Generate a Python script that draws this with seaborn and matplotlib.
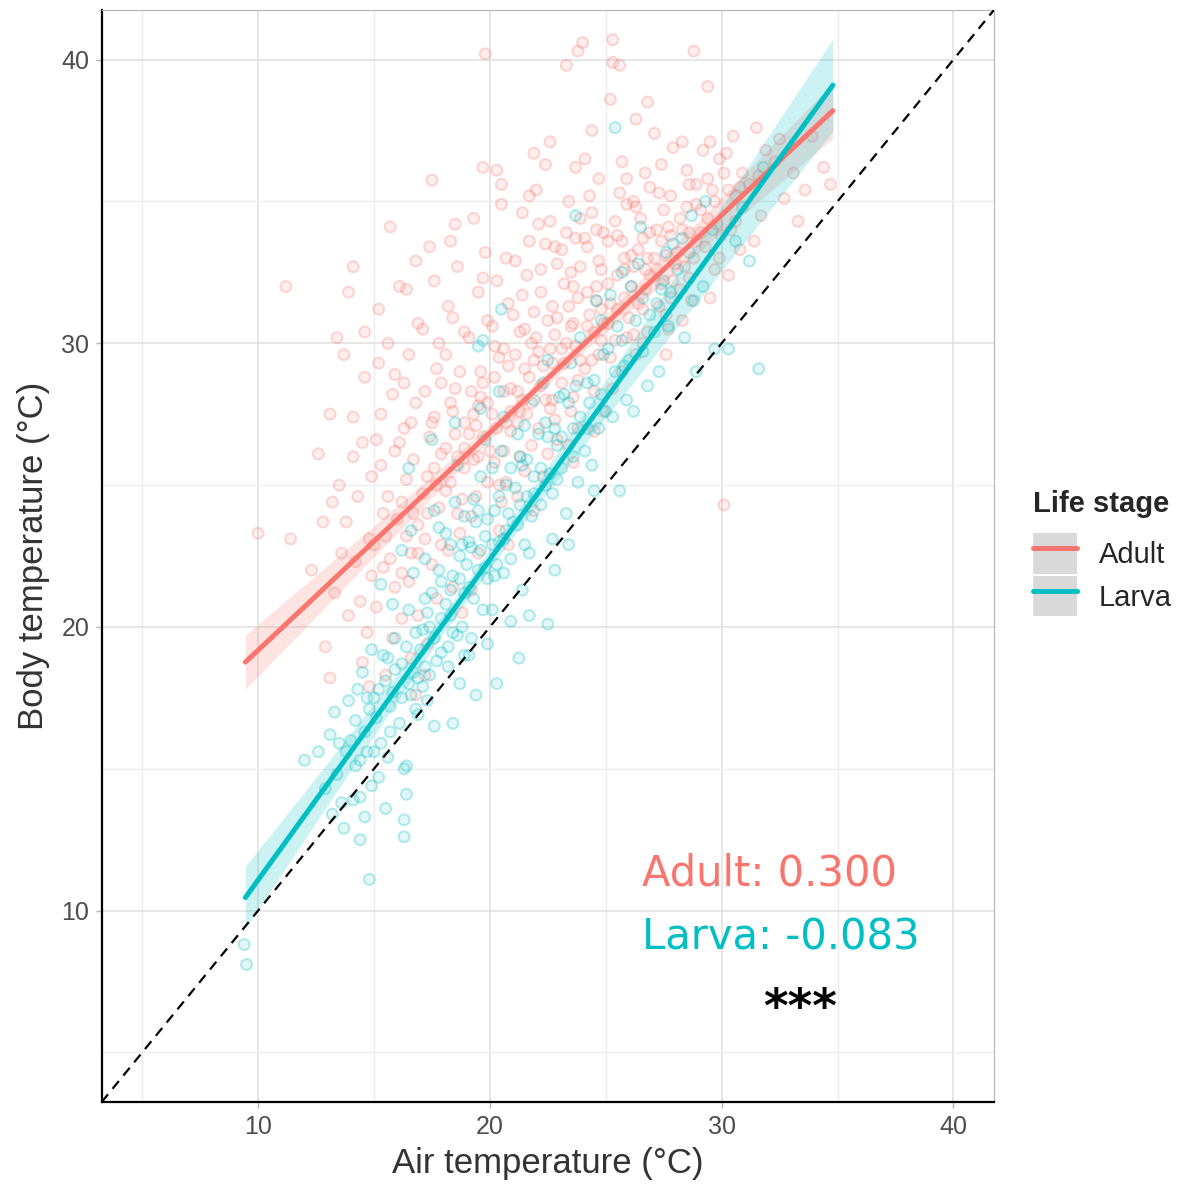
import matplotlib
matplotlib.use("Agg")
import matplotlib.pyplot as plt
import seaborn as sns
import pandas as pd
from matplotlib.lines import Line2D
from matplotlib.patches import Patch
from matplotlib.legend_handler import HandlerTuple
from matplotlib.ticker import MultipleLocator

# ---------------- data ----------------
stages = ["Adult", "Larva"]
stage_colors = ["#F8766D", "#00BFC4"]

adult_points = [
    (10.0, 23.3), (11.2, 32.0), (11.4, 23.1), (12.3, 22.0), (12.8, 23.7), (12.9, 19.3), (12.6, 26.1), (13.1, 18.2),
    (13.1, 27.5), (13.4, 30.2), (13.7, 29.6), (13.8, 23.7), (13.9, 31.8), (13.5, 25.0), (13.3, 21.2), (13.9, 20.4),
    (13.6, 22.6), (13.2, 24.4),
    (14.1, 32.7), (14.1, 27.4), (14.1, 26.0), (14.5, 26.5), (14.6, 28.8), (14.9, 21.8), (14.7, 19.8), (14.5, 18.75),
    (14.3, 24.6), (14.8, 23.1), (14.2, 22.3), (14.6, 30.4), (14.9, 25.3), (14.4, 20.9), (14.8, 17.9),
    (15.7, 34.1), (15.3, 27.5), (15.3, 25.7), (15.5, 23.2), (15.1, 20.7), (15.9, 28.9), (15.8, 28.2), (15.2, 31.2),
    (15.6, 30.0), (15.4, 22.1), (15.8, 19.6), (15.6, 24.6), (15.1, 26.6), (15.9, 21.4), (15.5, 18.3), (15.9, 26.2),
    (15.2, 29.3),
    (16.8, 32.9), (16.1, 32.0), (16.4, 31.9), (16.3, 27.0), (16.6, 22.6), (16.9, 22.6), (16.2, 20.3), (16.9, 20.4),
    (16.5, 29.6), (16.7, 25.9), (16.2, 24.4), (16.8, 27.9), (16.4, 23.2), (16.6, 18.9), (16.1, 26.5), (16.9, 30.7),
    (16.5, 21.6), (16.7, 24.0), (16.3, 28.6), (16.8, 17.6),
    (17.5, 35.75), (17.2, 28.3), (17.9, 28.6), (17.3, 25.3), (17.7, 21.0), (17.1, 30.5), (17.6, 32.2), (17.4, 26.7),
    (17.8, 24.2), (17.2, 23.1), (17.5, 22.2), (17.9, 26.1), (17.3, 19.4), (17.8, 30.0), (17.6, 27.4), (17.1, 24.7),
    (17.9, 22.9), (17.4, 33.4), (17.7, 29.1), (17.2, 18.3), (17.6, 25.6),
    (18.5, 34.2), (18.7, 29.0), (18.4, 27.6), (18.4, 21.4), (18.8, 24.5), (18.2, 31.3), (18.6, 32.7), (18.1, 26.3),
    (18.9, 27.2), (18.3, 25.1), (18.7, 23.3), (18.2, 22.7), (18.9, 30.4), (18.5, 28.4), (18.1, 29.6), (18.6, 26.0),
    (18.8, 20.5), (18.3, 33.6), (18.6, 24.0), (18.9, 25.6), (18.4, 30.9),
    (19.3, 34.4), (19.7, 36.2), (19.8, 40.2), (19.2, 28.3), (19.7, 26.7), (19.2, 23.9), (19.5, 31.8), (19.1, 30.2),
    (19.6, 29.0), (19.4, 27.1), (19.9, 25.1), (19.3, 25.9), (19.8, 33.2), (19.5, 22.6), (19.1, 26.8), (19.6, 28.1),
    (19.9, 30.8), (19.4, 24.6), (19.7, 32.3), (19.2, 21.3), (19.5, 27.8),
    (20.3, 36.1), (20.5, 34.9), (20.4, 29.5), (20.8, 31.4), (20.1, 27.5), (20.6, 28.3), (20.2, 25.8), (20.9, 26.9),
    (20.5, 24.4), (20.7, 33.0), (20.3, 32.2), (20.8, 29.2), (20.1, 30.6), (20.6, 26.2), (20.4, 23.4), (20.9, 27.6),
    (20.2, 28.8), (20.7, 25.1), (20.5, 35.6), (20.8, 22.9),
    (21.4, 34.6), (21.9, 36.7), (21.3, 30.4), (21.7, 28.8), (21.2, 27.2), (21.6, 32.4), (21.1, 29.6), (21.8, 26.4),
    (21.5, 25.5), (21.9, 31.1), (21.4, 28.0), (21.7, 33.6), (21.2, 24.6), (21.6, 27.5), (21.8, 30.0), (21.3, 26.0),
    (21.5, 29.1), (21.9, 24.1), (21.1, 32.9), (21.7, 35.2),
    (22.0, 35.4), (22.4, 36.3), (22.6, 34.3), (22.2, 31.8), (22.8, 30.3), (22.3, 29.2), (22.7, 28.0), (22.1, 27.0),
    (22.5, 26.1), (22.9, 32.8), (22.4, 33.5), (22.6, 29.8), (22.2, 28.5), (22.8, 27.3), (22.3, 25.3), (22.7, 31.3),
    (22.9, 26.6), (22.5, 30.8), (22.1, 34.2), (22.6, 37.1),
    (23.3, 39.8), (23.8, 40.3), (23.4, 35.0), (23.7, 33.7), (23.2, 32.1), (23.6, 30.7), (23.9, 29.4), (23.1, 28.6),
    (23.5, 27.6), (23.8, 31.6), (23.3, 30.0), (23.6, 28.1), (23.9, 34.4), (23.4, 26.4), (23.7, 36.2), (23.2, 29.3),
    (23.5, 32.5), (23.8, 27.0), (23.1, 33.3), (23.6, 25.8),
    (24.0, 40.6), (24.4, 37.5), (24.7, 35.8), (24.2, 33.4), (24.6, 32.0), (24.3, 31.0), (24.8, 30.1), (24.1, 29.1),
    (24.5, 28.3), (24.9, 33.9), (24.4, 34.6), (24.7, 29.6), (24.2, 30.6), (24.6, 31.5), (24.9, 27.6), (24.3, 35.2),
    (24.8, 32.6), (24.1, 36.5), (24.5, 26.9),
    (25.3, 40.7), (25.3, 39.9), (25.6, 39.8), (25.2, 38.6), (25.7, 36.4), (25.4, 34.3), (25.8, 33.0), (25.1, 32.1),
    (25.5, 31.2), (25.9, 30.2), (25.2, 29.5), (25.6, 35.3), (25.3, 28.4), (25.8, 32.6), (25.5, 33.8), (25.9, 34.9),
    (25.1, 30.7), (25.7, 29.0),
    (26.3, 37.9), (26.7, 36.0), (26.2, 35.0), (26.6, 33.7), (26.9, 32.4), (26.4, 31.4), (26.8, 30.4), (26.1, 33.1),
    (26.5, 34.4), (26.9, 35.5), (26.3, 29.6), (26.7, 31.9), (26.2, 32.7), (26.6, 30.0), (26.8, 38.5),
    (27.1, 37.4), (27.4, 36.3), (27.8, 35.2), (27.2, 34.0), (27.6, 33.1), (27.9, 32.2), (27.3, 31.3), (27.7, 30.5),
    (27.5, 34.7), (27.9, 36.9), (27.2, 32.6), (27.6, 29.6), (27.4, 33.6), (27.8, 31.6),
    (28.8, 40.3), (28.3, 37.1), (28.6, 35.6), (28.2, 34.4), (28.9, 33.6), (28.4, 32.7), (28.7, 31.5), (28.1, 33.2),
    (28.5, 36.1), (28.9, 34.9), (28.3, 30.8), (28.6, 33.9),
    (29.4, 39.05), (29.2, 36.8), (29.6, 35.4), (29.8, 34.2), (29.3, 33.4), (29.7, 32.6), (29.1, 34.7), (29.5, 31.6),
    (29.9, 36.5), (29.4, 35.8),
    (30.2, 36.7), (30.6, 35.2), (30.4, 34.0), (30.8, 33.3), (30.1, 24.3), (30.3, 32.4), (30.9, 36.0), (30.5, 37.3),
    (31.5, 37.6), (31.2, 35.6), (31.7, 34.5), (31.4, 33.6), (31.9, 36.8), (31.6, 35.9),
    (32.3, 36.4), (32.7, 35.1), (32.5, 37.2), (33.1, 36.0), (33.6, 35.4), (33.9, 37.3), (34.4, 36.2), (34.7, 35.6),
    (33.3, 34.3),
    # denser core along the adult trend
    (15.0, 22.9), (15.7, 22.4), (16.0, 23.8), (16.4, 25.2), (16.9, 23.6), (15.4, 24.0), (16.6, 27.2), (16.2, 21.9),
    (17.3, 24.0), (17.7, 25.0), (18.1, 24.8), (18.5, 26.8), (18.9, 26.3), (17.5, 27.2), (18.3, 27.9),
    (19.3, 27.5), (19.7, 28.6), (20.0, 26.2), (20.3, 27.0), (20.6, 29.8), (20.9, 28.4), (19.5, 26.0), (20.2, 29.9),
    (19.9, 27.9), (20.7, 27.2), (21.0, 31.0), (20.4, 25.0),
    (21.2, 28.3), (21.5, 30.5), (21.8, 27.9), (22.1, 29.7), (22.4, 28.0), (22.7, 29.3), (22.9, 30.9), (21.4, 31.7),
    (22.2, 32.6), (22.6, 27.7), (21.9, 29.4), (22.8, 33.4), (21.3, 27.6), (22.0, 30.2),
    (23.1, 29.8), (23.4, 31.3), (23.7, 29.9), (23.9, 32.7), (24.2, 31.8), (24.5, 30.4), (24.8, 31.2), (24.1, 33.7),
    (24.4, 29.4), (24.7, 32.9), (23.5, 30.6), (23.8, 28.7), (24.9, 30.7), (23.3, 33.9), (24.6, 34.0), (23.6, 32.0),
    (25.2, 31.4), (25.5, 32.4), (25.8, 31.6), (26.1, 32.0), (26.4, 33.3), (26.7, 32.6), (26.9, 33.9), (25.4, 30.1),
    (25.7, 33.6), (26.0, 30.9), (26.3, 34.8), (26.6, 31.2), (26.8, 33.0), (25.1, 33.6), (25.9, 35.8), (26.2, 30.3),
    (27.1, 33.0), (27.4, 32.1), (27.7, 34.1), (28.0, 32.8), (28.3, 34.0), (28.6, 32.3), (28.9, 35.6), (27.3, 35.3),
    (27.8, 33.8), (28.2, 31.9), (28.5, 34.8), (27.6, 31.0), (28.8, 33.0),
    (29.1, 33.9), (29.4, 34.4), (29.7, 35.0), (30.0, 33.8), (30.3, 35.4), (30.6, 34.3), (29.5, 37.1), (30.8, 35.5),
    (29.9, 33.0), (30.1, 36.0),
]

larva_points = [
    (9.4, 8.8), (9.5, 8.1), (12.0, 15.3), (12.6, 15.6), (12.9, 14.3),
    (13.1, 16.2), (13.4, 14.8), (13.7, 12.9), (13.3, 17.0), (13.8, 15.6), (13.6, 13.8), (13.9, 17.4), (13.2, 13.4),
    (14.4, 12.5), (14.8, 11.1), (14.2, 15.1), (14.6, 16.3), (14.9, 14.4), (14.3, 17.8), (14.7, 15.6), (14.1, 13.9),
    (14.5, 18.4), (14.8, 17.1), (14.4, 14.0), (14.9, 19.2), (14.2, 16.7), (14.6, 13.3),
    (15.3, 15.9), (15.7, 17.2), (15.1, 16.8), (15.5, 18.1), (15.9, 19.6), (15.2, 14.7), (15.6, 15.4), (15.8, 20.8),
    (15.4, 19.0), (15.0, 17.5), (15.7, 16.3), (15.3, 21.5), (15.9, 18.5), (15.5, 13.6),
    (16.3, 13.2), (16.3, 12.6), (16.3, 15.0), (16.4, 14.1), (16.4, 15.1), (16.6, 17.6), (16.2, 18.7), (16.8, 19.8),
    (16.5, 20.6), (16.9, 18.2), (16.1, 16.6), (16.7, 21.9), (16.4, 19.3), (16.9, 16.9), (16.2, 22.7), (16.6, 23.4),
    (16.8, 17.1), (16.5, 25.6),
    (17.3, 17.4), (17.7, 18.8), (17.1, 19.9), (17.5, 21.2), (17.9, 20.3), (17.2, 22.4), (17.6, 16.5), (17.8, 23.5),
    (17.4, 18.3), (17.9, 19.1), (17.2, 21.0), (17.6, 24.1), (17.4, 20.0), (17.8, 22.0), (17.1, 17.9), (17.5, 26.6),
    (18.4, 16.6), (18.2, 18.6), (18.6, 19.7), (18.9, 21.2), (18.3, 20.4), (18.7, 22.5), (18.1, 23.3), (18.5, 24.4),
    (18.8, 20.0), (18.4, 21.8), (18.9, 23.9), (18.2, 19.3), (18.6, 25.7), (18.7, 18.0), (18.3, 22.9), (18.9, 19.0),
    (18.5, 27.2),
    (19.4, 17.6), (19.2, 19.6), (19.7, 20.6), (19.5, 22.0), (19.1, 21.4), (19.8, 23.2), (19.3, 24.5), (19.6, 25.3),
    (19.9, 21.7), (19.2, 22.8), (19.7, 30.1), (19.5, 29.9), (19.8, 26.6), (19.4, 23.7), (19.1, 19.0), (19.6, 27.7),
    (19.9, 19.4),
    (20.3, 18.0), (20.5, 31.2), (20.1, 20.6), (20.6, 21.9), (20.4, 23.0), (20.9, 22.4), (20.2, 24.1), (20.7, 25.0),
    (20.5, 26.2), (20.8, 24.0), (20.3, 22.2), (20.6, 27.4), (20.9, 20.2), (20.1, 25.6), (20.4, 28.3),
    (21.25, 18.9), (21.4, 21.3), (21.7, 22.6), (21.2, 23.6), (21.6, 24.6), (21.9, 25.3), (21.3, 26.0), (21.8, 23.9),
    (21.5, 27.1), (21.1, 24.9), (21.7, 20.4), (21.9, 28.0), (21.4, 25.7),
    (22.5, 20.1), (22.7, 23.1), (22.2, 24.3), (22.6, 25.4), (22.9, 26.4), (22.4, 27.2), (22.8, 22.0), (22.1, 26.8),
    (22.3, 28.6), (22.7, 24.7), (22.5, 29.4),
    (23.7, 34.5), (23.3, 24.0), (23.6, 26.0), (23.9, 27.4), (23.2, 28.2), (23.8, 25.1), (23.5, 29.3), (23.4, 22.9),
    (23.9, 30.2), (23.1, 26.7),
    (24.4, 25.7), (24.7, 27.0), (24.2, 28.6), (24.9, 29.6), (24.5, 24.8), (24.8, 30.8), (24.3, 27.9), (24.6, 31.5),
    (25.6, 24.8), (25.4, 37.6), (25.3, 27.4), (25.8, 29.2), (25.5, 30.6), (25.9, 28.0), (25.2, 31.7), (25.7, 32.5),
    (26.2, 27.6), (26.6, 29.7), (26.9, 31.0), (26.4, 32.8), (26.8, 28.5), (26.5, 34.1),
    (27.3, 29.0), (27.7, 30.6), (27.5, 32.2), (27.9, 33.5), (27.2, 31.4),
    (28.4, 30.2), (28.8, 31.5), (28.6, 33.2), (29.2, 32.0), (29.6, 34.0), (29.7, 29.8), (29.3, 35.0), (28.9, 29.0),
    (30.3, 29.8), (30.6, 33.6), (31.2, 32.9), (31.6, 29.1), (30.9, 34.8), (31.8, 36.2),
    # denser core along the larva trend
    (13.5, 15.9), (14.0, 16.0), (14.4, 15.3), (14.7, 17.5), (15.2, 17.8), (15.6, 18.9), (15.0, 15.6), (15.8, 17.7),
    (16.2, 17.5), (16.7, 18.4), (17.0, 19.2), (17.3, 20.5), (17.6, 19.6), (17.9, 21.6), (16.5, 18.0), (17.2, 18.6),
    (18.1, 20.8), (18.4, 19.8), (18.7, 21.7), (19.0, 22.2), (19.3, 21.0), (19.6, 22.7), (19.9, 23.8), (18.3, 21.3),
    (18.8, 22.9), (19.5, 24.1), (19.1, 23.0), (19.8, 22.1),
    (20.1, 22.9), (20.4, 24.6), (20.7, 23.4), (21.0, 23.7), (21.3, 24.3), (21.6, 25.9), (21.9, 24.7), (20.2, 21.8),
    (20.9, 25.6), (21.5, 22.9), (20.6, 23.1), (21.2, 26.8),
    (22.2, 25.6), (22.5, 26.7), (22.8, 27.0), (23.1, 25.6), (23.4, 27.9), (23.7, 28.5), (22.4, 25.0), (23.0, 28.1),
    (23.6, 27.0), (22.9, 25.2),
    (24.2, 27.0), (24.5, 28.7), (24.8, 28.2), (25.1, 29.8), (25.4, 29.0), (25.7, 30.1), (26.0, 29.4), (26.3, 30.8),
    (26.6, 31.6), (24.1, 26.2), (25.0, 27.6), (26.1, 32.0),
    (27.1, 30.4), (27.4, 31.9), (27.8, 31.8), (28.1, 32.6), (28.3, 33.7), (28.7, 34.5), (27.6, 33.2),
]

# fitted lines and confidence half-widths
fit_air = [9.45, 12, 15, 18, 21, 24, 27, 30, 32.5, 34.8]
adult_fit = [18.76, 20.71, 23.02, 25.32, 27.62, 29.92, 32.22, 34.52, 36.44, 38.20]
adult_halfwidth = [0.95, 0.77, 0.55, 0.36, 0.23, 0.26, 0.43, 0.63, 0.81, 0.97]
larva_fit = [10.46, 13.34, 16.73, 20.12, 23.51, 26.90, 30.29, 33.68, 36.51, 39.10]
larva_halfwidth = [1.10, 0.84, 0.57, 0.34, 0.34, 0.57, 0.84, 1.14, 1.39, 1.63]

annot_labels = ["Adult: 0.300", "Larva: -0.083"]
signif_label = "***"

axis_limits = (3.25, 41.75)

# ---------------- figure ----------------
sns.set_theme(style="white")
plt.rcParams["font.family"] = ["Liberation Sans", "DejaVu Sans"]

fig = plt.figure(figsize=(11.84, 11.86), dpi=100)
ax = fig.add_axes([0.0859, 0.0708, 0.7536, 0.9208])

rows = [(x, y, "Adult") for x, y in adult_points] + [(x, y, "Larva") for x, y in larva_points]
df = pd.DataFrame(rows, columns=["air", "body", "stage"])

sns.scatterplot(data=df, x="air", y="body", hue="stage", hue_order=stages,
                palette=stage_colors, s=62, linewidth=1.5, legend=False, ax=ax, zorder=2)
coll = ax.collections[-1]
fc = coll.get_facecolors().copy()
ec = fc.copy()
ec[:, 3] = 0.28
fc[:, 3] = 0.11
coll.set_facecolors(fc)
coll.set_edgecolors(ec)

fits = {"Adult": (adult_fit, adult_halfwidth), "Larva": (larva_fit, larva_halfwidth)}
for stage, color in zip(stages, stage_colors):
    fit, hw = fits[stage]
    lo = [f - h for f, h in zip(fit, hw)]
    hi = [f + h for f, h in zip(fit, hw)]
    ax.fill_between(fit_air, lo, hi, color=color, alpha=0.2, linewidth=0, zorder=3)
for stage, color in zip(stages, stage_colors):
    fit, _ = fits[stage]
    sns.lineplot(x=fit_air, y=fit, color=color, linewidth=3.6, sort=False,
                 estimator=None, ax=ax, zorder=4)

ax.axline((0, 0), slope=1, color="black", linestyle=(0, (4.5, 3.2)), linewidth=1.6, zorder=5)

# annotations
ax.text(26.55, 11.3, annot_labels[0], color=stage_colors[0], fontsize=30,
        family="DejaVu Sans", ha="left", va="center")
ax.text(26.55, 9.05, annot_labels[1], color=stage_colors[1], fontsize=30,
        family="DejaVu Sans", ha="left", va="center")
ax.text(33.4, 6.5, signif_label, color="black", fontsize=34, fontweight="bold",
        family="DejaVu Sans", ha="center", va="center")

ax.set_xlim(*axis_limits)
ax.set_ylim(*axis_limits)
ax.xaxis.set_major_locator(MultipleLocator(10))
ax.yaxis.set_major_locator(MultipleLocator(10))
ax.xaxis.set_minor_locator(MultipleLocator(5))
ax.yaxis.set_minor_locator(MultipleLocator(5))
ax.grid(which="major", color="#E1E1E1", linewidth=1.2)
ax.grid(which="minor", color="#EDEDED", linewidth=1.0)
ax.set_axisbelow(True)

ax.tick_params(axis="both", which="major", labelsize=18, labelcolor="#4D4D4D",
               color="#B3B3B3", length=4, width=1, direction="out", pad=5,
               bottom=True, left=True)
ax.tick_params(axis="both", which="minor", length=0)

for side in ["left", "bottom"]:
    ax.spines[side].set_color("black")
    ax.spines[side].set_linewidth(1.6)
for side in ["top", "right"]:
    ax.spines[side].set_color("#B8B8B8")
    ax.spines[side].set_linewidth(0.9)

ax.set_xlabel("Air temperature (°C)", fontsize=25, color="#333333", labelpad=6)
ax.set_ylabel("Body temperature (°C)", fontsize=25, color="#333333", labelpad=8)

handles = [(Patch(facecolor="#D9D9D9", edgecolor="none"),
            Line2D([], [], color=c, linewidth=3.6)) for c in stage_colors]
leg = fig.legend(handles, stages, title="Life stage",
                 handler_map={tuple: HandlerTuple(ndivide=1, pad=0)},
                 loc="upper left", bbox_to_anchor=(1033 / 1184, 1 - 490 / 1186),
                 borderpad=0, borderaxespad=0,
                 frameon=False, fontsize=21, handlelength=1.5, handleheight=1.75,
                 labelspacing=0.08, handletextpad=0.75, alignment="left",
                 title_fontproperties={"weight": "bold", "size": 21})
leg._legend_box.sep = 11

fig.savefig("out.png", dpi=100)
